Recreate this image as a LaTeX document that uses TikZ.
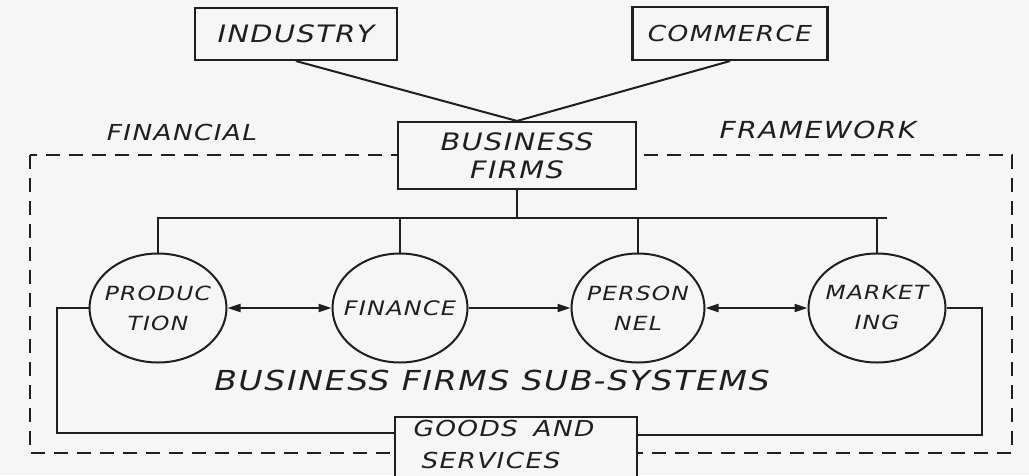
\documentclass[tikz,border=0pt]{standalone}
\usepackage{fontspec}
\usetikzlibrary{shapes.geometric,arrows.meta,calc}
\newfontfamily\lett[FakeStretch=1.2,LetterSpace=6]{DejaVu Sans}
\definecolor{paper}{gray}{0.965}
\definecolor{ink}{gray}{0.12}
\begin{document}
\begin{tikzpicture}[x=1pt,y=-1pt,
  every node/.style={text=ink},
  lbl/.style={font={\lett\itshape\fontsize{#1}{#1}\selectfont}},
  box/.style={draw=ink, line width=2.1pt, fill=paper, rectangle, inner sep=0pt},
  sub/.style={draw=ink, line width=2pt, ellipse, inner sep=0pt, minimum width=137pt, minimum height=109pt},
  subtext/.style={align=center, inner sep=0pt, font={\lett\itshape\fontsize{19.5}{30}\selectfont}},
  conn/.style={draw=ink, line width=2pt},
  dtip/.style={{Triangle[length=13pt,width=8pt]}-{Triangle[length=13pt,width=8pt]}},
  stip/.style={-{Triangle[length=13pt,width=8pt]}},
  frame/.style={draw=ink, line width=1.8pt, dash pattern=on 14pt off 9pt}
]
\fill[paper] (0,0) rectangle (1029,475);
\useasboundingbox (0,0) rectangle (1029,475);
% dashed framework
\draw[frame] (30,155) rectangle (1012,453);
% boxes
\node[box, minimum width=202pt, minimum height=52pt, lbl=24] (industry) at (296,34) {INDUSTRY};
\node[box, minimum width=195pt, minimum height=53pt, lbl=22] (commerce) at (730,33.5) {COMMERCE};
\node[box, minimum width=238pt, minimum height=67pt, align=center, font={\lett\itshape\fontsize{24}{28}\selectfont}] (bf) at (517,155.5) {BUSINESS\\FIRMS};
\node[box, anchor=north, minimum width=242pt, minimum height=80pt] (goods) at (516,416) {};
\node[anchor=west, align=left, font={\lett\itshape\fontsize{22}{32}\selectfont}] (goodstext) at (410,444) {GOODS\hspace{6pt} AND\\\hspace*{8pt}SERVICES};
% sub-systems
\node[sub] (prod) at (158,308) {};
\node[subtext] (prodtext) at (prod) {PRODUC\\TION};
\node[sub, minimum width=135pt] (fin) at (400,308) {};
\node[subtext, font={\lett\itshape\fontsize{20}{30}\selectfont}] (fintext) at (fin) {FINANCE};
\node[sub, minimum width=133pt] (pers) at (638,308) {};
\node[subtext] (perstext) at (pers) {PERSON\\NEL};
\node[sub] (mkt) at (877,308) {};
\node[subtext] (mkttext) at (mkt) {MARKET\\ING};
% labels
\node[lbl=22] (financial) at (182,132) {FINANCIAL};
\node[lbl=23.5] (framework) at (818,130) {FRAMEWORK};
\node[lbl=27.5] (subsys) at (492,380) {BUSINESS FIRMS SUB-SYSTEMS};
% connectors
\draw[conn] (industry.south) -- (bf.north);
\draw[conn] (commerce.south) -- (bf.north);
\coordinate (bus) at (517,218);
\draw[conn] (bf.south) -- (bus);
\draw[conn] (prod.north) -- (prod.north |- bus) -- ([xshift=10pt]mkt.north |- bus);
\draw[conn] (fin.north) -- (fin.north |- bus);
\draw[conn] (pers.north) -- (pers.north |- bus);
\draw[conn] (mkt.north) -- (mkt.north |- bus);
\draw[conn, dtip] (prod.east) -- (fin.west);
\draw[conn, stip] (fin.east) -- (pers.west);
\draw[conn, dtip] (pers.east) -- (mkt.west);
\draw[conn] (prod.west) -- ++(-32,0) |- ($(goods.north west)+(0,17)$);
\draw[conn] (mkt.east) -- ++(35,0) |- ($(goods.north east)+(0,19)$);
\end{tikzpicture}
\end{document}
